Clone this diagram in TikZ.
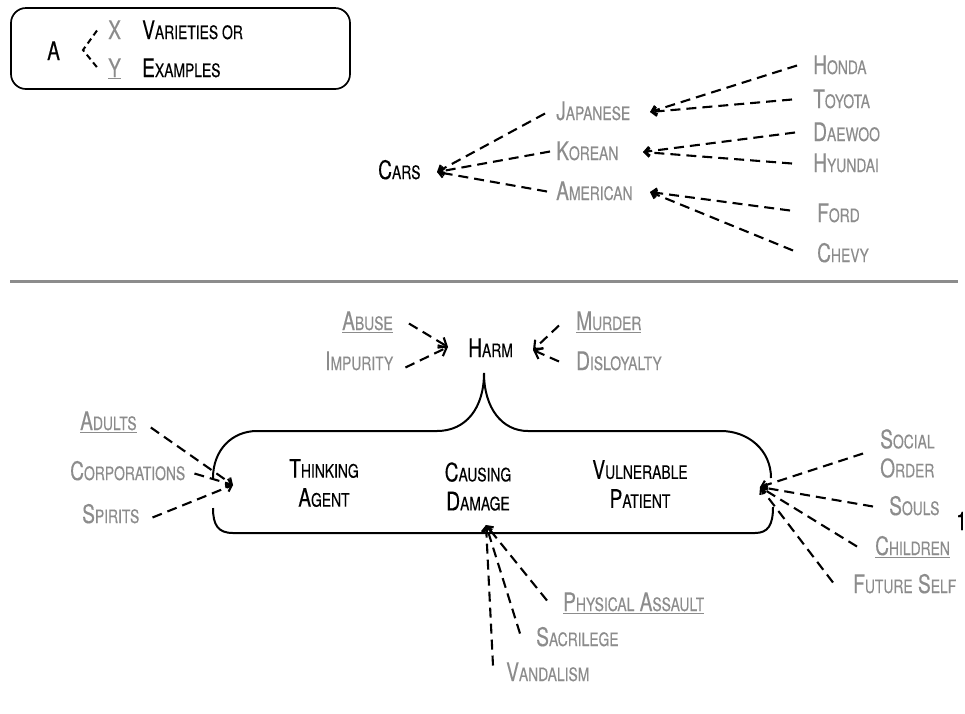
\documentclass[tikz,border=0pt]{standalone}
\usepackage{fontspec}
\setmainfont{TeX Gyre Heros}[FakeStretch=0.75,FakeBold=0.3]
\usetikzlibrary{arrows.meta}
\definecolor{lg}{RGB}{140,140,140}
\definecolor{rulegray}{RGB}{140,140,140}
\newcommand\sm[1]{{\fontsize{18.5pt}{29pt}\selectfont #1}}
\begin{document}
\begin{tikzpicture}[x=1pt,y=-1pt,
  lbl/.style={inner sep=0pt, anchor=base west, text height=17pt, text depth=0pt, font=\fontsize{25.5pt}{29pt}\selectfont},
  glbl/.style={lbl, text=lg},
  blbl/.style={lbl, text=black},
  mlbl/.style={inner sep=0pt, font=\fontsize{25.5pt}{29pt}\selectfont},
  dl/.style={line width=2.1pt, dash pattern=on 10pt off 6pt, -{Straight Barb[length=5pt,width=9pt]}},
  hl/.style={line width=2.1pt, dash pattern=on 10pt off 6pt, -{Straight Barb[length=7pt,width=12pt]}},
  outline/.style={line width=2pt}]
\useasboundingbox (0,0) rectangle (965,713);

% ---------- legend ----------
\draw[line width=1.7pt, rounded corners=15pt] (11,8) rectangle (350,89);
\node[blbl] (legA) at (47,60) {A};
\node[glbl] (legX) at (108,39) {X};
\node[glbl] (legY) at (108,77) {\underline{Y}};
\node[blbl] (legV) at (142,39) {V\sm{ARIETIES OR}};
\node[blbl] (legE) at (142,77) {E\sm{XAMPLES}};
\coordinate (legApex) at (83,50);
\draw[line width=2pt, dash pattern=on 6pt off 4pt] ([xshift=-11pt]legX.west) -- (legApex) -- ([xshift=-10pt]legY.west);

% ---------- cars ----------
\node[blbl] (cars) at (378,179) {C\sm{ARS}};
\node[glbl] (jp) at (556,120) {J\sm{APANESE}};
\node[glbl] (kr) at (556,160) {K\sm{OREAN}};
\node[glbl] (am) at (556,200) {A\sm{MERICAN}};
\node[glbl] (honda) at (813,74) {H\sm{ONDA}};
\node[glbl] (toyota) at (813,108) {T\sm{OYOTA}};
\node[glbl] (daewoo) at (813,141) {D\sm{AEWOO}};
\node[glbl] (hyundai) at (813,172) {H\sm{YUNDAI}};
\node[glbl] (ford) at (817,222) {F\sm{ORD}};
\node[glbl] (chevy) at (817,262) {C\sm{HEVY}};
\coordinate (carsTip) at (437,172);
\coordinate (jpTip) at (650,112);
\coordinate (krTip) at (643,152);
\coordinate (amTip) at (650,192);
\draw[dl] ([xshift=-11pt,yshift=-2pt]jp.west) -- (carsTip);
\draw[dl] ([xshift=-6pt]kr.west) -- (carsTip);
\draw[dl] ([xshift=-9pt]am.west) -- (carsTip);
\draw[dl] ([xshift=-16pt]honda.west) -- (jpTip);
\draw[dl] ([xshift=-21pt]toyota.west) -- (jpTip);
\draw[dl] ([xshift=-18pt]daewoo.west) -- (krTip);
\draw[dl] ([xshift=-21pt]hyundai.west) -- (krTip);
\draw[dl] ([xshift=-27pt,yshift=3pt]ford.west) -- (amTip);
\draw[dl] ([xshift=-24pt,yshift=3pt]chevy.west) -- (amTip);

% ---------- separator ----------
\draw[rulegray, line width=3pt] (10,281) -- (958,281);

% ---------- harm ----------
\node[glbl] (abuse) at (342,330) {\underline{A\sm{BUSE}}};
\node[glbl] (imp) at (325,370) {I\sm{MPURITY}};
\node[blbl] (harm) at (468,357) {H\sm{ARM}};
\node[glbl] (murder) at (576,330) {\underline{M\sm{URDER}}};
\node[glbl] (disl) at (576,370) {D\sm{ISLOYALTY}};
\coordinate (hTipL) at (448,347);
\coordinate (hTipR) at (533,350);
\draw[hl] ([xshift=16pt,yshift=-2pt]abuse.east) -- (hTipL);
\draw[hl] ([xshift=12pt,yshift=-6pt]imp.east) -- (hTipL);
\draw[hl] ([xshift=-17pt,yshift=-4pt]murder.west) -- (hTipR);
\draw[hl] ([xshift=-17pt]disl.west) -- (hTipR);

% ---------- brace outline ----------
\draw[outline] (213,478) .. controls (213,450) and (232,431) .. (257,431) -- (437,431)
  .. controls (466,431) and (484,408) .. (484,373)
  .. controls (484,408) and (502,431) .. (528,431) -- (721,431)
  .. controls (748,431) and (771,450) .. (771,478);
\draw[outline] (213,508) .. controls (213,525) and (218,533) .. (233,533) -- (755,533)
  .. controls (768,533) and (773,525) .. (773,507);

\node[mlbl, align=center] (think) at (324,483) {T\sm{HINKING}\\A\sm{GENT}};
\node[mlbl, align=center] (caus) at (478,486.5) {C\sm{AUSING}\\D\sm{AMAGE}};
\node[mlbl, align=center] (vuln) at (640,484) {V\sm{ULNERABLE}\\P\sm{ATIENT}};

% ---------- left ----------
\node[glbl] (adults) at (80,430) {\underline{A\sm{DULTS}}};
\node[glbl] (corp) at (70,480) {C\sm{ORPORATIONS}};
\node[glbl] (spirits) at (82,523) {S\sm{PIRITS}};
\coordinate (tipL) at (233,485);
\draw[dl] ([xshift=14pt,yshift=-6pt]adults.east) -- (tipL);
\draw[dl] ([xshift=9pt,yshift=-2pt]corp.east) -- (tipL);
\draw[dl] ([xshift=13pt,yshift=-3pt]spirits.east) -- (tipL);

% ---------- right ----------
\node[mlbl, text=lg, anchor=west, align=left] (social) at (880,453.5) {S\sm{OCIAL}\\O\sm{RDER}};
\node[glbl] (souls) at (889,515) {S\sm{OULS}};
\node[blbl] (one) at (956,530) {1};
\node[glbl] (children) at (875,555) {\underline{C\sm{HILDREN}}};
\node[glbl] (future) at (853,593) {F\sm{UTURE} S\sm{ELF}};
\coordinate (tipR) at (760,487);
\draw[dl] ([xshift=-17pt]social.west) -- (tipR);
\draw[dl] ([xshift=-16pt]souls.west) -- (tipR);
\draw[dl] ([xshift=-18pt]children.west) -- (tipR);
\draw[dl] ([xshift=-20pt,yshift=2pt]future.west) -- (tipR);

% ---------- bottom ----------
\node[glbl] (phys) at (563,611) {\underline{P\sm{HYSICAL} A\sm{SSAULT}}};
\node[glbl] (sac) at (536,646) {S\sm{ACRILEGE}};
\node[glbl] (vand) at (506,681) {V\sm{ANDALISM}};
\coordinate (tipB) at (486,525);
\draw[dl] ([xshift=-16pt,yshift=2pt]phys.west) -- (tipB);
\draw[dl] ([xshift=-16pt,yshift=4pt]sac.west) -- (tipB);
\draw[dl] ([xshift=-13pt,yshift=7pt]vand.west) -- (tipB);
\end{tikzpicture}
\end{document}
